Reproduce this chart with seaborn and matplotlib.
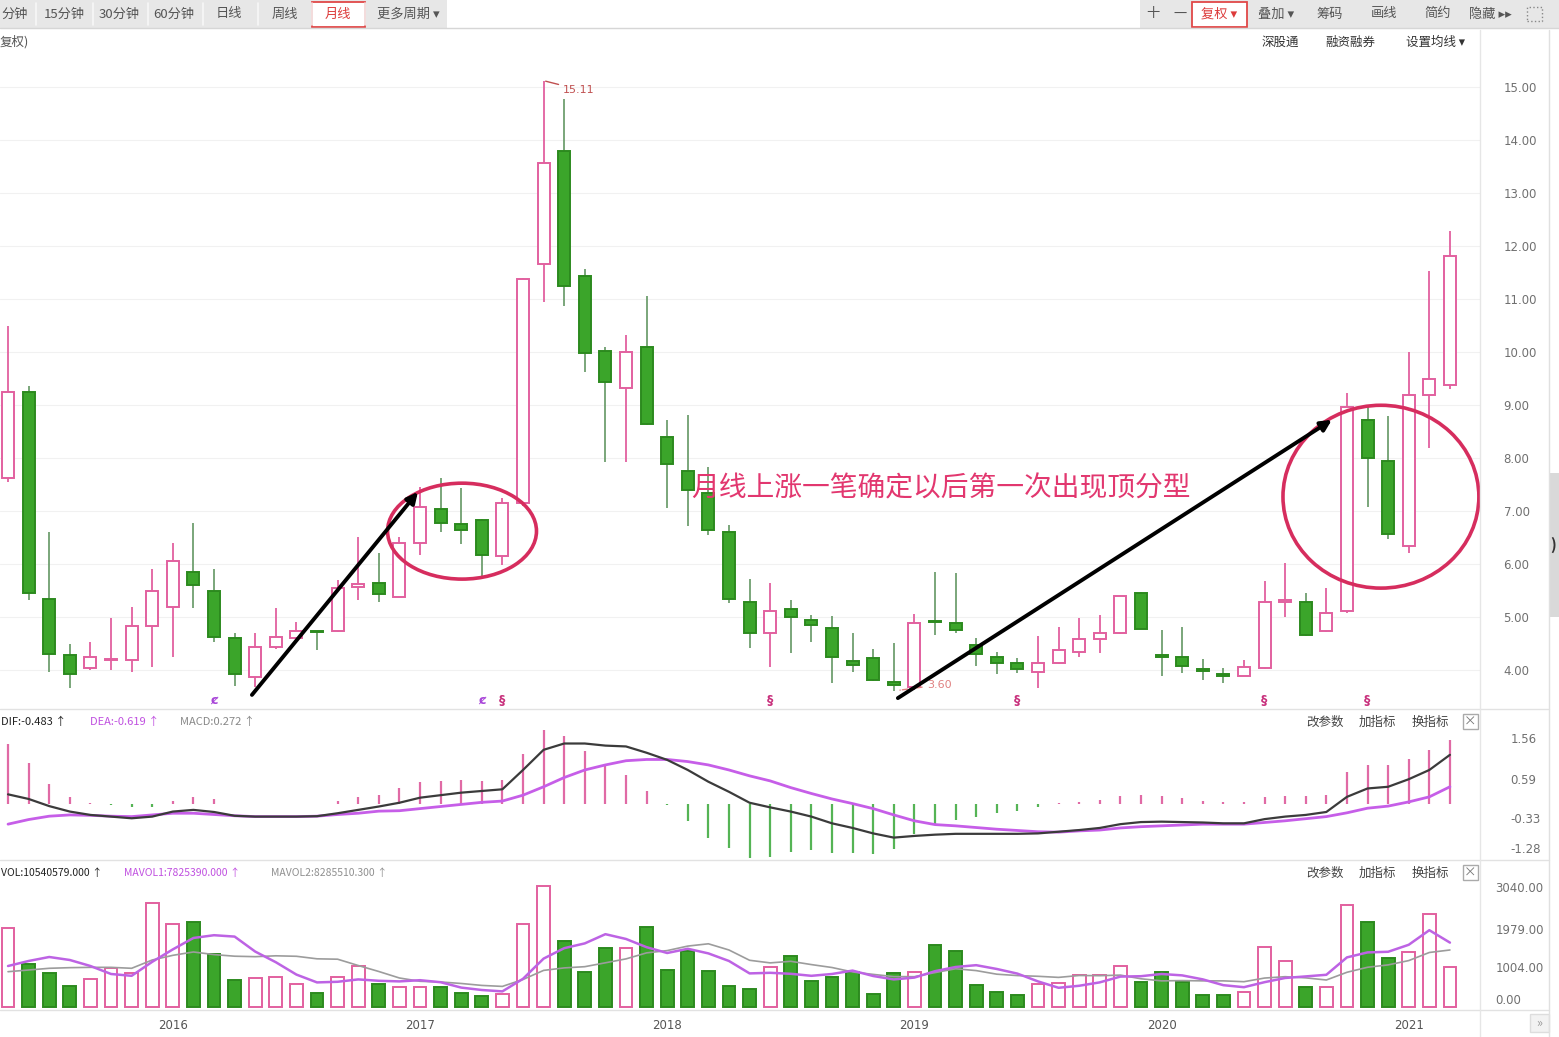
"""
Monthly K-line chart with MACD and volume panels (recreated screenshot)
"""

import matplotlib
matplotlib.use("Agg")
import matplotlib.pyplot as plt
import matplotlib.transforms as mtrans
from matplotlib.patches import Rectangle, Ellipse
import seaborn as sns
import pandas as pd
import numpy as np

sns.set_style("white")
plt.rcParams['font.family'] = ['Noto Sans CJK SC', 'DejaVu Sans']
plt.rcParams['axes.unicode_minus'] = False

# ---------------- data: monthly bars 2015-05 .. 2021-03 ----------------
months = pd.date_range('2015-05-01', periods=71, freq='MS')

opens = [7.62, 9.25, 5.34, 4.28, 4.04, 4.18, 4.19, 4.83, 5.19, 5.85,
         5.49, 4.60, 3.87, 4.43, 4.60, 4.73, 4.74, 5.57, 5.64, 5.38,
         6.40, 7.04, 6.75, 6.83, 6.15, 7.15, 11.66, 13.79, 11.43, 10.02,
         9.32, 10.09, 8.40, 7.75, 7.34, 6.60, 5.28, 4.70, 5.15, 4.94,
         4.79, 4.17, 4.23, 3.77, 3.68, 4.92, 4.89, 4.47, 4.25, 4.13,
         3.96, 4.13, 4.34, 4.58, 4.70, 5.45, 4.27, 4.25, 4.02, 3.90,
         3.89, 4.04, 5.28, 5.28, 4.74, 5.11, 8.72, 7.94, 6.34, 9.19,
         9.38]
highs = [10.50, 9.36, 6.60, 4.49, 4.53, 4.98, 5.19, 5.91, 6.40, 6.77,
         5.91, 4.70, 4.70, 5.17, 4.90, 4.74, 5.70, 6.51, 6.20, 6.51,
         7.45, 7.62, 7.43, 6.85, 7.25, 11.40, 15.11, 14.77, 11.57, 10.10,
         10.32, 11.06, 8.72, 8.81, 7.83, 6.74, 5.72, 5.64, 5.32, 5.04,
         5.02, 4.70, 4.40, 4.51, 5.06, 5.85, 5.83, 4.60, 4.34, 4.23,
         4.64, 4.81, 4.98, 5.04, 5.40, 5.48, 4.75, 4.81, 4.21, 4.04,
         4.19, 5.68, 6.02, 5.45, 5.55, 9.23, 9.00, 8.79, 10.00, 11.53,
         12.28]
lows = [7.55, 5.32, 3.96, 3.66, 4.00, 4.00, 3.96, 4.06, 4.25, 5.17,
        4.53, 3.70, 3.68, 4.40, 4.55, 4.38, 4.72, 5.32, 5.28, 5.38,
        6.17, 6.60, 6.38, 5.75, 5.98, 7.10, 10.94, 10.87, 9.62, 7.92,
        7.92, 8.62, 7.06, 6.72, 6.55, 5.26, 4.42, 4.06, 4.32, 4.53,
        3.75, 3.96, 3.79, 3.60, 3.62, 4.66, 4.70, 4.08, 3.92, 3.94,
        3.66, 4.12, 4.25, 4.32, 4.68, 4.77, 3.89, 3.94, 3.81, 3.75,
        3.88, 4.02, 5.00, 4.64, 4.72, 5.08, 7.08, 6.47, 6.21, 8.19,
        9.30]
closes = [9.25, 5.45, 4.30, 3.92, 4.25, 4.21, 4.83, 5.49, 6.06, 5.60,
          4.62, 3.92, 4.43, 4.62, 4.74, 4.71, 5.55, 5.62, 5.43, 6.40,
          7.08, 6.77, 6.64, 6.17, 7.15, 11.38, 13.57, 11.25, 9.98, 9.43,
          10.00, 8.64, 7.89, 7.40, 6.64, 5.34, 4.70, 5.11, 5.00, 4.85,
          4.25, 4.09, 3.81, 3.72, 4.89, 4.90, 4.75, 4.30, 4.13, 4.02,
          4.13, 4.38, 4.58, 4.70, 5.40, 4.77, 4.25, 4.08, 3.98, 3.89,
          4.06, 5.28, 5.32, 4.66, 5.08, 8.96, 8.00, 6.57, 9.19, 9.49,
          11.81]

# volume (axis units as shown on the chart)
volume = [2000, 1088, 860, 531, 708, 987, 860, 2631, 2100, 2150,
          1341, 683, 734, 759, 582, 354, 759, 1037, 582, 506,
          506, 506, 354, 278, 329, 2100, 3061, 1670, 886, 1493,
          1493, 2024, 936, 1417, 911, 531, 455, 1012, 1290, 658,
          759, 886, 329, 860, 886, 1569, 1417, 557, 380, 304,
          582, 607, 810, 810, 1037, 633, 886, 633, 304, 304,
          380, 1518, 1164, 506, 506, 2581, 2150, 1240, 1392, 2353,
          1012]
mavol1 = [1037, 1164, 1265, 1189, 1037, 835, 789, 1143, 1457, 1746,
          1816, 1781, 1402, 1133, 820, 622, 638, 698, 663, 648,
          678, 627, 491, 430, 395, 713, 1224, 1488, 1609, 1842,
          1721, 1513, 1366, 1473, 1356, 1164, 850, 865, 840, 789,
          835, 921, 784, 698, 744, 906, 1012, 1058, 962, 845,
          648, 486, 537, 623, 769, 779, 835, 800, 699, 552,
          501, 628, 734, 774, 815, 1255, 1381, 1397, 1574, 1943,
          1629]
mavol2 = [893, 936, 979, 995, 1003, 1003, 979, 1189, 1307, 1392,
          1326, 1285, 1273, 1295, 1283, 1219, 1209, 1050, 898, 734,
          650, 633, 595, 546, 521, 696, 926, 989, 1020, 1118,
          1217, 1369, 1427, 1541, 1599, 1442, 1182, 1116, 1156, 1073,
          999, 886, 825, 769, 767, 870, 967, 921, 830, 795,
          777, 749, 797, 792, 807, 714, 661, 668, 661, 661,
          640, 732, 767, 737, 683, 878, 1005, 1065, 1174, 1379,
          1442]

dif = [0.23, 0.12, -0.05, -0.18, -0.26, -0.30, -0.34, -0.30, -0.18, -0.14,
       -0.19, -0.28, -0.30, -0.30, -0.30, -0.29, -0.22, -0.14, -0.06, 0.03,
       0.15, 0.21, 0.27, 0.31, 0.35, 0.81, 1.29, 1.44, 1.44, 1.39,
       1.37, 1.22, 1.05, 0.81, 0.53, 0.29, 0.03, -0.08, -0.18, -0.30,
       -0.46, -0.57, -0.70, -0.80, -0.76, -0.73, -0.71, -0.71, -0.71, -0.71,
       -0.70, -0.66, -0.62, -0.57, -0.48, -0.43, -0.42, -0.43, -0.44, -0.46,
       -0.46, -0.36, -0.30, -0.26, -0.19, 0.17, 0.37, 0.41, 0.59, 0.81,
       1.17]
dea = [-0.48, -0.37, -0.29, -0.26, -0.27, -0.29, -0.30, -0.26, -0.22, -0.22,
       -0.25, -0.28, -0.30, -0.30, -0.30, -0.29, -0.25, -0.22, -0.17, -0.16,
       -0.11, -0.06, -0.01, 0.04, 0.07, 0.21, 0.41, 0.63, 0.81, 0.93,
       1.03, 1.06, 1.06, 1.01, 0.93, 0.81, 0.67, 0.55, 0.39, 0.25,
       0.12, 0.01, -0.11, -0.26, -0.40, -0.49, -0.52, -0.56, -0.60, -0.63,
       -0.66, -0.67, -0.64, -0.62, -0.57, -0.54, -0.52, -0.50, -0.48, -0.48,
       -0.48, -0.44, -0.40, -0.35, -0.30, -0.21, -0.10, -0.05, 0.05, 0.17,
       0.41]

price_ticks = [4, 5, 6, 7, 8, 9, 10, 11, 12, 13, 14, 15]
macd_ticks = [1.56, 0.59, -0.33, -1.28]
vol_ticks = [0, 1004, 1979, 3040]
year_labels = ['2016', '2017', '2018', '2019', '2020', '2021']

signal_idx = [10, 23, 24, 37, 49, 61, 66]
signal_txt = ['ȼ', 'ȼ', '§', '§', '§', '§', '§']

note_text = '月线上涨一笔确定以后第一次出现顶分型'

# ---------------- derived frame ----------------
df = pd.DataFrame({'date': months, 'open': opens, 'high': highs, 'low': lows,
                   'close': closes, 'vol': volume, 'mavol1': mavol1,
                   'mavol2': mavol2, 'dif': dif, 'dea': dea})
df['idx'] = np.arange(len(df))
df['macd'] = 2 * (df['dif'] - df['dea'])
df['up'] = df['close'] >= df['open']

UP = '#e2609f'
DOWN_FACE = '#3ba52a'
DOWN_EDGE = '#2c8a1e'
DOWN_WICK = '#6f9f6f'
RED = '#dd3b3b'

W, H = 1559, 1037
fig = plt.figure(figsize=(W / 100, H / 100), dpi=100)
fig.patch.set_facecolor('white')


def rect(x0, y0, x1, y1):
    return [x0 / W, 1 - y1 / H, (x1 - x0) / W, (y1 - y0) / H]


def ftext(x, y, s, **kw):
    kw.setdefault('va', 'center')
    fig.text(x / W, 1 - y / H, s, **kw)


def fbox(x0, y0, x1, y1, **kw):
    fig.patches.append(Rectangle((x0 / W, 1 - y1 / H), (x1 - x0) / W, (y1 - y0) / H,
                                 transform=fig.transFigure, **kw))


def fline(x0, y0, x1, y1, **kw):
    fig.add_artist(plt.Line2D([x0 / W, x1 / W], [1 - y0 / H, 1 - y1 / H],
                              transform=fig.transFigure, **kw))


def lift_label(label, px):
    # nudge a tick label up by px pixels (the bottom labels sit above the edge)
    label.set_transform(label.get_transform() +
                        mtrans.ScaledTranslation(0, px / 100, fig.dpi_scale_trans))


XLIM = (-0.39, 71.46)

# ---------------- price panel ----------------
ax_p = fig.add_axes(rect(0, 55, 1480, 708))
ax_p.set_xlim(*XLIM)
ax_p.set_ylim(3.283, 15.604)

wick_cols = [UP if u else DOWN_WICK for u in df['up']]
ax_p.vlines(df['idx'], df['low'], df['high'], colors=wick_cols, lw=1.3, zorder=2)
body_lo = np.minimum(df['open'], df['close'])
body_h = np.maximum((df['close'] - df['open']).abs(), 0.03)
ax_p.bar(df['idx'], body_h, bottom=body_lo, width=0.58,
         color=['white' if u else DOWN_FACE for u in df['up']],
         edgecolor=[UP if u else DOWN_EDGE for u in df['up']],
         linewidth=1.4, zorder=3)

ax_p.set_xticks([])
ax_p.yaxis.tick_right()
ax_p.set_yticks(price_ticks)
ax_p.set_yticklabels([f'{v:.2f}' for v in price_ticks], family='DejaVu Sans')
ax_p.tick_params(axis='y', length=0, pad=17, labelsize=8.5, labelcolor='#707070')
ax_p.grid(axis='y', color='#f1f1f1', lw=0.8)
ax_p.set_axisbelow(True)
for s in ax_p.spines.values():
    s.set_visible(False)

# signal letters under candles
for i, t in zip(signal_idx, signal_txt):
    ax_p.text(i, 3.43, t, ha='center', va='center', fontsize=9, fontweight='bold',
              color='#a845d8' if t == 'ȼ' else '#c8307c', family='DejaVu Sans')

# peak / trough labels
ax_p.annotate('15.11', xy=(26.1, 15.11), xytext=(26.95, 14.95), fontsize=8,
              color='#c05050', va='center', family='DejaVu Sans',
              arrowprops=dict(arrowstyle='-', color='#c05050', lw=1,
                              shrinkA=1, shrinkB=0))
ax_p.annotate('3.60', xy=(43.3, 3.62), xytext=(44.6, 3.72), fontsize=8,
              color='#e08080', va='center', family='DejaVu Sans',
              arrowprops=dict(arrowstyle='-', color='#e08080', lw=1, ls='--',
                              shrinkA=1, shrinkB=0))

# hand-drawn marks: circles and arrows
for (cx, cy, w, h) in [(22.04, 6.62, 7.23, 1.81), (66.65, 7.27, 9.51, 3.45)]:
    ax_p.add_patch(Ellipse((cx, cy), w, h, fill=False, ec='#d62d5e', lw=2.6, zorder=6))
for (x0, y0, x1, y1) in [(11.84, 3.53, 19.9, 7.36), (43.2, 3.47, 64.27, 8.72)]:
    ax_p.annotate('', xy=(x1, y1), xytext=(x0, y0), zorder=7,
                  arrowprops=dict(arrowstyle='-|>', color='black', lw=2.8,
                                  mutation_scale=16, shrinkA=0, shrinkB=0))

ax_p.text(45.3, 7.43, note_text, ha='center', va='center', fontsize=20,
          color='#e2376f', zorder=8)

# ---------------- MACD panel ----------------
ax_m = fig.add_axes(rect(0, 712, 1480, 860))
ax_m.set_xlim(*XLIM)
ax_m.set_ylim(-1.333, 2.19)
ax_m.vlines(df['idx'], 0, df['macd'],
            colors=['#e06aa5' if m >= 0 else '#55b455' for m in df['macd']], lw=1.6)
sns.lineplot(data=df, x='idx', y='dea', ax=ax_m, color='#c65ee8', linewidth=2.0)
sns.lineplot(data=df, x='idx', y='dif', ax=ax_m, color='#3b3b3b', linewidth=1.6)
ax_m.set_xlabel('')
ax_m.set_ylabel('')
ax_m.set_xticks([])
ax_m.yaxis.tick_right()
ax_m.set_yticks(macd_ticks)
ax_m.set_yticklabels([f'{v:.2f}' for v in macd_ticks], family='DejaVu Sans')
ax_m.tick_params(axis='y', length=0, pad=22, labelsize=8.5, labelcolor='#707070')
lift_label(ax_m.get_yticklabels()[-1], 10)
for s in ax_m.spines.values():
    s.set_visible(False)

# ---------------- volume panel ----------------
ax_v = fig.add_axes(rect(0, 862, 1480, 1009))
ax_v.set_xlim(*XLIM)
ax_v.set_ylim(-50.6, 3668)
ax_v.bar(df['idx'], df['vol'], width=0.62,
         color=['white' if u else DOWN_FACE for u in df['up']],
         edgecolor=[UP if u else DOWN_EDGE for u in df['up']], linewidth=1.4)
sns.lineplot(data=df, x='idx', y='mavol2', ax=ax_v, color='#9c9c9c', linewidth=1.2)
sns.lineplot(data=df, x='idx', y='mavol1', ax=ax_v, color='#bd63e4', linewidth=1.8)
ax_v.set_xlabel('')
ax_v.set_ylabel('')
ax_v.set_xticks([8, 20, 32, 44, 56, 68])
ax_v.set_xticklabels(year_labels, family='DejaVu Sans')
ax_v.tick_params(axis='x', length=0, pad=7, labelsize=8.5, labelcolor='#555555')
ax_v.yaxis.tick_right()
ax_v.set_yticks(vol_ticks)
ax_v.set_yticklabels([f'{v:.2f}' for v in vol_ticks], family='DejaVu Sans')
ax_v.tick_params(axis='y', length=0, pad=11, labelsize=8.5, labelcolor='#707070')
lift_label(ax_v.get_yticklabels()[0], 8)
for s in ax_v.spines.values():
    s.set_visible(False)

# ---------------- frame / toolbar ----------------
fbox(0, 0, 447, 28, fc='#e7e7e7', ec='none')
fbox(1140, 0, 1559, 28, fc='#e7e7e7', ec='none')
fline(0, 28, W, 28, color='#d6d6d6', lw=1)
for sx in [36, 93, 148, 203, 258, 312, 365]:
    fline(sx, 3, sx, 25, color='#f7f7f7', lw=1.2)
fbox(312, 2, 365, 27, fc='white', ec='#e04848', lw=1.3)
fbox(1192, 2, 1247, 27, fc='white', ec='#e04848', lw=1.3)

left_btns = [('分钟', 15), ('15分钟', 64), ('30分钟', 119), ('60分钟', 174),
             ('日线', 229), ('周线', 285), ('月线', 338), ('更多周期 ▾', 408)]
for t, bx in left_btns:
    ftext(bx, 14, t, ha='center', fontsize=9.5,
          color=RED if t == '月线' else '#555555')
right_btns = [('十', 1153), ('一', 1180), ('复权 ▾', 1219), ('叠加 ▾', 1276),
              ('筹码', 1330), ('画线', 1384), ('简约', 1438), ('隐藏 ▸▸', 1490)]
for t, bx in right_btns:
    ftext(bx, 14, t, ha='center', fontsize=9.5,
          color=RED if t.startswith('复权') else '#555555')
fbox(1527, 7, 1542, 21, fc='none', ec='#888888', lw=1, ls=':')

ftext(0, 42, '复权)', ha='left', fontsize=9, color='#555555')
for t, bx in [('深股通', 1280), ('融资融券', 1350), ('设置均线 ▾', 1436)]:
    ftext(bx, 42, t, ha='center', fontsize=9, color='#333333')

# panel headers
ftext(1, 722, 'DIF:-0.483 ↑', ha='left', fontsize=8, color='#222222')
ftext(90, 722, 'DEA:-0.619 ↑', ha='left', fontsize=8, color='#c050e0')
ftext(180, 722, 'MACD:0.272 ↑', ha='left', fontsize=8, color='#888888')
ftext(1, 873, 'VOL:10540579.000 ↑', ha='left', fontsize=7.5, color='#222222')
ftext(124, 873, 'MAVOL1:7825390.000 ↑', ha='left', fontsize=7.5, color='#c050e0')
ftext(271, 873, 'MAVOL2:8285510.300 ↑', ha='left', fontsize=7.5, color='#909090')
for hy in [722, 873]:
    for t, bx in [('改参数', 1325), ('加指标', 1377), ('换指标', 1430)]:
        ftext(bx, hy, t, ha='center', fontsize=9, color='#444444')
    fbox(1463, hy - 8, 1478, hy + 7, fc='white', ec='#aaaaaa', lw=1)
    ftext(1470.5, hy, '×', ha='center', fontsize=9, color='#777777')

# separators
for sy in [709, 860, 1010]:
    fline(0, sy, 1549, sy, color='#e2e2e2', lw=1)
fline(1480, 30, 1480, 1037, color='#e6e6e6', lw=1)
fline(1549, 30, 1549, 1037, color='#e0e0e0', lw=1)
fbox(1550, 473, 1559, 617, fc='#d9d9d9', ec='none')
ftext(1553, 545, ')', ha='center', fontsize=11, color='#333333', fontweight='bold')
fbox(1530, 1014, 1549, 1032, fc='#f2f2f2', ec='#dddddd', lw=1)
ftext(1539.5, 1023, '»', ha='center', fontsize=9, color='#999999')

fig.savefig('out.png', dpi=100)
